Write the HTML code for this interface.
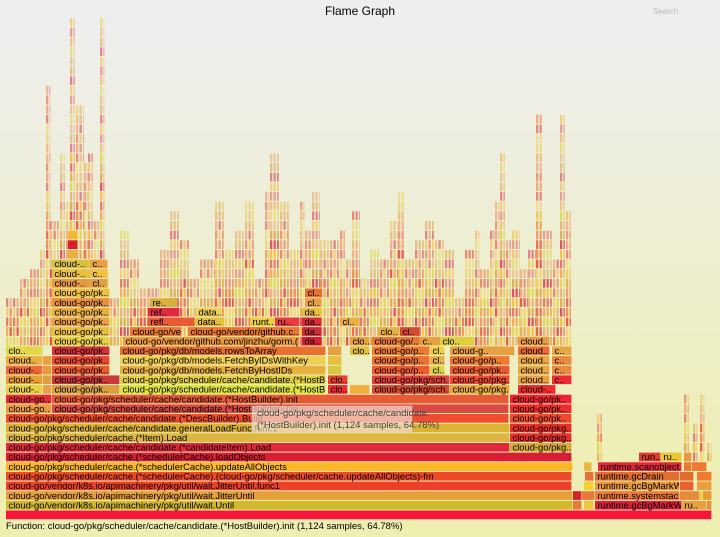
<!DOCTYPE html>
<html><head><meta charset="utf-8"><style>
html,body{margin:0;padding:0;background:#eeeeb0;}
svg{display:block;font-family:"Liberation Sans",sans-serif;}
</style></head><body>
<svg id="fg" width="720" height="537" viewBox="0 0 720 537" xmlns="http://www.w3.org/2000/svg">
<defs><linearGradient id="bg" x1="0" y1="0" x2="0" y2="1"><stop offset="5%" stop-color="#eeeeee"/><stop offset="95%" stop-color="#eeeeb0"/></linearGradient></defs>
<rect x="0" y="0" width="720" height="537" fill="url(#bg)"/>
<text x="360" y="15" text-anchor="middle" font-size="12" fill="#000">Flame Graph</text>
<text x="653" y="14" font-size="8" fill="#b8b8b8">Search</text>
<g id="spikes"></g>
<g id="frames"></g>
<g>
<rect x="252" y="406" width="160" height="26" fill="#f4e0d0" fill-opacity="0.7" stroke="#e8c8b8" stroke-width="0.5"/>
<text x="257" y="416" font-size="9.5" fill="#444">cloud-go/pkg/scheduler/cache/candidate.</text>
<text x="257" y="428" font-size="9.5" fill="#444">(*HostBuilder).init (1,124 samples, 64.78%)</text>
</g>
<text x="6" y="529" font-size="9.5" fill="#000">Function: cloud-go/pkg/scheduler/cache/candidate.(*HostBuilder).init (1,124 samples, 64.78%)</text>
</svg>
<script>
// Silhouette of upper stacks: bin start x, bin end x, top y
const binStart=[6,20,30,40,46,50,60,66,70,76,84,88,94,100,104,110,120,130,140,148,160,170,180,190,200,215,225,235,245,255,265,270,280,290,300,305,312,320,330,340,346,352,360,370,380,390,398,405,415,425,435,445,455,465,475,480,490,495,500,506,512,520,528,536,543,553,560,566,597,684,693,700,707];
const binEnd=[20,30,40,46,50,60,66,70,76,84,88,94,100,104,110,120,130,140,148,160,170,180,190,200,215,225,235,245,255,265,270,280,290,300,305,312,320,330,340,346,352,360,370,380,390,398,405,415,425,435,445,455,465,475,480,490,495,500,506,512,520,528,536,543,553,560,566,572,603,690,697,705,712];
const binTop=[300,280,270,250,88,220,155,200,20,108,160,150,220,20,270,300,230,260,290,290,250,215,240,275,260,200,250,230,200,280,195,150,200,250,200,230,195,240,240,230,260,210,280,250,260,220,195,260,240,220,240,250,300,250,230,270,235,200,155,240,230,270,250,117,230,260,117,210,410,395,420,395,440];
const binBase=[18,18,18,18,18,18,18,18,18,18,18,18,18,18,18,18,18,18,18,18,18,18,18,18,18,18,18,18,18,18,18,18,18,18,18,18,18,18,18,18,18,18,18,18,18,18,18,18,18,18,18,18,18,18,18,18,18,18,18,18,18,18,18,18,18,18,18,18,6,6,6,6,6];

// Labeled frames: row, x1, x2, label, color
const fRow=[0,1,1,1,1,1,1,2,2,2,2,2,2,2,3,3,3,3,3,4,4,4,4,4,5,5,5,5,5,6,6,6,6,7,7,8,8,9,9,10,10,11,11,11,12,12,12,
13,13,13,13,13,13,13,13,13,14,14,14,14,14,14,14,14,14,15,15,15,15,15,15,15,15,15,15,16,16,16,16,16,16,16,16,16,16,
17,17,17,17,17,17,17,17,17,17,18,18,18,18,18,18,18,18,19,19,19,19,19,19,20,20,20,20,20,20,20,21,21,21,21,22,22,22,23,23,24,24,25,25,26,26,27,28,29];
const fX1=[6,6,573,584,595,682,707,6,573,582,595,680,700,703,6,584,595,680,697,6,585,595,680,697,6,584,598,684,692,6,639,661,684,6,510,6,510,6,510,6,510,6,52,510,6,52,510,
6,43,52,120,328,350,372,450,518,6,43,52,120,328,372,450,518,552,6,43,52,120,328,372,430,450,518,552,6,43,52,120,328,372,430,450,518,552,
6,52,120,328,350,372,430,450,518,552,52,123,302,350,372,420,440,518,52,130,188,302,378,400,52,148,195,250,275,302,340,52,148,196,302,52,150,305,52,305,52,90,52,90,52,90,68,68,68];
const fX2=[712,573,582,594,682,707,712,573,582,595,680,700,703,712,572,594,680,694,712,572,594,680,694,712,573,592,682,692,707,572,661,682,692,510,572,510,572,510,572,509,572,52,509,572,52,509,572,
43,52,120,326,348,370,450,510,556,43,52,120,326,348,450,510,550,572,43,52,110,326,342,430,445,510,550,572,43,52,110,326,342,430,445,510,550,572,
43,110,326,342,370,430,445,515,550,572,110,300,322,370,420,440,475,550,110,182,300,322,400,420,110,195,225,275,300,322,360,110,180,222,322,110,178,322,110,322,90,108,90,108,90,108,78,78,78];
const fLabel=["","cloud-go/vendor/k8s.io/apimachinery/pkg/util/wait.Until","","","runtime.gcBgMarkWo..","ru..","",
"cloud-go/vendor/k8s.io/apimachinery/pkg/util/wait.JitterUntil","","","runtime.systemstack","","","",
"cloud-go/vendor/k8s.io/apimachinery/pkg/util/wait.JitterUntil.func1","","runtime.gcBgMarkWo..","","",
"cloud-go/pkg/scheduler/cache.(*schedulerCache).(cloud-go/pkg/scheduler/cache.updateAllObjects)-fm","","runtime.gcDrain","","",
"cloud-go/pkg/scheduler/cache.(*schedulerCache).updateAllObjects","","runtime.scanobject","","",
"cloud-go/pkg/scheduler/cache.(*schedulerCache).loadObjects","run..","ru..","",
"cloud-go/pkg/scheduler/cache/candidate.(*candidateItem).Load","cloud-go/pkg..",
"cloud-go/pkg/scheduler/cache.(*Item).Load","cloud-go/pkg..",
"cloud-go/pkg/scheduler/cache/candidate.generalLoadFunc.func1","cloud-go/pkg..",
"cloud-go/pkg/scheduler/cache/candidate.(*DescBuilder).Build","cloud-go/pk..",
"cloud-go..","cloud-go/pkg/scheduler/cache/candidate.(*HostBuilder).Do","cloud-go/pk..",
"cloud-go..","cloud-go/pkg/scheduler/cache/candidate.(*HostBuilder).init","cloud-go/pk..",
"cloud-..","","cloud-go/pk..","cloud-go/pkg/scheduler/cache/candidate.(*HostB..","clo..","","cloud-go/pkg/sch..","cloud-go/pkg..","cloud-..",
"cloud-..","","cloud-go/pk..","cloud-go/pkg/scheduler/cache/candidate.(*HostB..","clo..","cloud-go/pkg/sch..","cloud-go/pkg..","cloud..","c..",
"cloud-..","","cloud-go/pk..","cloud-go/pkg/db/models.FetchByHostIDs","c..","cloud-go/p..","cl..","cloud-go/pk..","cloud..","c..",
"cloud..","","cloud-go/pk..","cloud-go/pkg/db/models.FetchByIDsWithKey","c..","cloud-go/p..","cl..","cloud-go/p..","cloud..","c..",
"clo..","cloud-go/pk..","cloud-go/pkg/db/models.rowsToArray","c..","clo..","cloud-go/p..","cl..","cloud-g..","cloud..","c..",
"cloud-go/pk..","cloud-go/vendor/github.com/jinzhu/gorm.(..","da..","clo..","cloud-go/..","c..","clo..","cloud..",
"cloud-go/pk..","cloud-go/ve..","cloud-go/vendor/github.c..","da..","clo..","cl..",
"cloud-go/pk..","refl..","data..","runt..","ru..","da..","cl..",
"cloud-go/pk..","ref..","data..","da..",
"cloud-go/pk..","re..","cl..","cloud-go/pk..","cl..","cloud-..","cl..","cloud-..","c..","cloud-..","c..","d..","d..","d.."];
const fColor=["#f5163a","#d2b82d","#ea7a3a","#f0c840","#dc1e3c","#e8a040","#e89040","#e6a03a","#d8202c","#e67a3a","#ee7a3a","#e88a3a","#f0d030","#e89a3a",
"#ec4028","#f4d030","#e89a3a","#e86030","#e8a040","#ee4a2a","#e87040","#e07030","#e06a30","#f07a30",
"#fcb828","#e8b840","#e02a3a","#e87a30","#ec7a30","#d81e34","#e23a2e","#ecc830","#e89a40",
"#e0283c","#d8ac34","#dcb640","#e42e2c","#dcb434","#e83028","#ee4e2c","#ee4a30",
"#ef9a40","#d84a42","#ee2c30","#e42a34","#e85a34","#ee2430",
"#e8d040","#e8a050","#d8a040","#dde43a","#ee2a34","#f0b040","#d84a30","#e8a838","#ee2a30",
"#e8a030","#e0a040","#c83838","#e0d040","#e84030","#e2403a","#ee4a30","#e8a040","#ee2a34",
"#ee6a38","#e89a40","#e85a30","#e8b040","#d8c840","#ec5a30","#dcd43c","#e85a30","#e8a840","#e88a40",
"#e8b040","#e8a040","#e84a30","#eed050","#e8c040","#e87030","#e8b048","#ec7a30","#eaa840","#e88a40",
"#e0d848","#d8303a","#e87030","#e8a040","#e8c040","#ee7a30","#f0d040","#e8a040","#ec6a30","#e8a840",
"#e8d040","#ec9a3a","#d81e34","#e8a040","#e87a30","#e8a040","#e0d040","#ea9a40",
"#e8c040","#e87a30","#e8782e","#cc2a3a","#e8b040","#d84a30",
"#e8a040","#e85a30","#e8c040","#e8d040","#e83a40","#d82a3a","#e8b040",
"#e8b040","#e02a40","#f0d050","#e8c040",
"#e89040","#d8b040","#e8a040","#f0c040","#e87030","#e89a40","#e0a040","#e8c040","#f0c040","#d8c040","#e8a040","#e8b040","#d81e2c"];

const NS="http://www.w3.org/2000/svg";
function rowY(r){return 510.5-r*9.65;}
function rowR(y){return Math.round((510.5-y)/9.65);}
const pal=["#e8543a","#f0a040","#e8c840","#d83040","#ee7a30","#dcd43c","#e89a40","#f4b830","#e23a2e","#e8a868","#ec8a50","#e06050","#f0d060","#d8a040"];
const sp=document.getElementById('spikes');
let k=0;
for(let i=0;i<binStart.length;i++){
  const top=rowR(binTop[i]);
  const bx1=binStart[i], bx2=binEnd[i];
  for(let x=bx1;x<bx2;x+=3.5){
    const w=Math.min(3.5,bx2-x);
    for(let r=binBase[i];r<=top;r++){
      k++;
      const rc=document.createElementNS(NS,'rect');
      
      
      rc.setAttribute('x',x);rc.setAttribute('y',rowY(r));
      rc.setAttribute('width',Math.max(w-1.2,0.8));rc.setAttribute('height',8.7);
      rc.setAttribute('fill',pal[(k*7+r*3+i)%pal.length]);
      const frac=(r-binBase[i])/Math.max(1,top-binBase[i]);
      rc.setAttribute('fill-opacity',frac>0.6?0.55:0.8);
      sp.appendChild(rc);
    }
  }
}
const fg=document.getElementById('frames');
for(let i=0;i<fRow.length;i++){
  const g=document.createElementNS(NS,'g');
  
  
  const x1=fX1[i],x2=fX2[i],y=rowY(fRow[i]);
  const rc=document.createElementNS(NS,'rect');
  rc.setAttribute('x',x1);rc.setAttribute('y',y);
  rc.setAttribute('width',Math.max(x2-x1-0.6,0.8));rc.setAttribute('height',8.7);
  rc.setAttribute('fill',fColor[i]||pal[i%pal.length]);
  g.appendChild(rc);
  if(fLabel[i] && x2-x1>14){
    const t=document.createElementNS(NS,'text');
    t.setAttribute('x',x1+2.5);t.setAttribute('y',y+7.6);
    t.setAttribute('font-size','9.4');t.setAttribute('fill','#000');
    t.textContent=fLabel[i];
    const cp=document.createElementNS(NS,'svg');
    cp.setAttribute('x',0);cp.setAttribute('y',0);cp.setAttribute('width',x2-1);cp.setAttribute('height',537);
    cp.setAttribute('overflow','hidden');
    cp.appendChild(t);
    g.appendChild(cp);
  }
  fg.appendChild(g);
}
</script>
</body></html>
